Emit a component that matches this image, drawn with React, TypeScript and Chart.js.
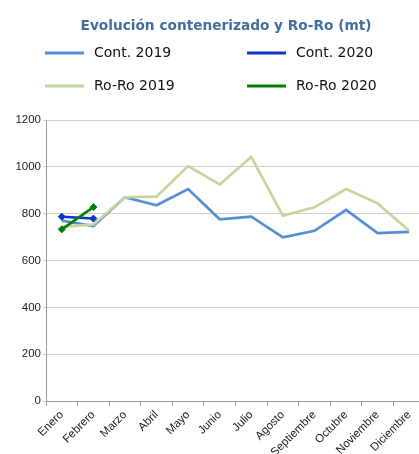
import React, { useEffect, useRef } from "react";
import { Chart, registerables } from "chart.js";

Chart.register(...registerables);

const months = ["Enero", "Febrero", "Marzo", "Abril", "Mayo", "Junio", "Julio", "Agosto", "Septiembre", "Octubre", "Noviembre", "Diciembre"];
const cont2019 = [770, 747, 870, 836, 905, 776, 787, 699, 727, 816, 717, 722];
const roro2019 = [744, 754, 870, 873, 1003, 925, 1042, 791, 827, 905, 844, 727];
const cont2020 = [787, 779];
const roro2020 = [733, 828];
const yTicks = [0, 200, 400, 600, 800, 1000, 1200];

const TITLE = "Evolución contenerizado y Ro-Ro (mt)";
const legendItems = [
  { label: "Cont. 2019", color: "#558ED5", x: 45, y: 53 },
  { label: "Cont. 2020", color: "#0A35C8", x: 247, y: 53 },
  { label: "Ro-Ro 2019", color: "#C3D69B", x: 45, y: 86 },
  { label: "Ro-Ro 2020", color: "#008000", x: 247, y: 86 },
];

const headerPlugin = {
  id: "header",
  afterDraw(chart: any) {
    const ctx = chart.ctx;
    ctx.save();
    ctx.fillStyle = "#41709F";
    ctx.font = "bold 13.7px 'DejaVu Sans'";
    ctx.textAlign = "center";
    ctx.textBaseline = "middle";
    ctx.fillText(TITLE, 226, 26);
    ctx.font = "14px 'DejaVu Sans'";
    ctx.textAlign = "left";
    for (const it of legendItems) {
      ctx.strokeStyle = it.color;
      ctx.lineWidth = 3;
      ctx.beginPath();
      ctx.moveTo(it.x, it.y);
      ctx.lineTo(it.x + 39, it.y);
      ctx.stroke();
      ctx.fillStyle = "#111111";
      ctx.fillText(it.label, it.x + 49, it.y);
    }
    ctx.restore();
  },
};

export default function App() {
  const ref = useRef<HTMLCanvasElement>(null);
  useEffect(() => {
    if (!ref.current) return;
    const chart = new Chart(ref.current, {
      type: "line",
      data: {
        labels: months,
        datasets: [
          { label: "Ro-Ro 2020", data: roro2020, borderColor: "#008000", backgroundColor: "#008000", borderWidth: 2.5, pointStyle: "rectRot", pointRadius: 3.5, pointBorderWidth: 1, order: 0 },
          { label: "Cont. 2020", data: cont2020, borderColor: "#0A35C8", backgroundColor: "#0A35C8", borderWidth: 2.5, pointStyle: "rectRot", pointRadius: 3.5, pointBorderWidth: 1, order: 1 },
          { label: "Ro-Ro 2019", data: roro2019, borderColor: "#C3D69B", borderWidth: 2.7, pointRadius: 0, order: 2 },
          { label: "Cont. 2019", data: cont2019, borderColor: "#558ED5", borderWidth: 2.7, pointRadius: 0, order: 3 },
        ],
      },
      options: {
        animation: false,
        responsive: false,
        events: [],
        layout: { padding: { top: 120, left: 0, right: 5, bottom: 0 } },
        plugins: { legend: { display: false }, title: { display: false }, tooltip: { enabled: false } },
        elements: { line: { tension: 0 } },
        scales: {
          x: {
            offset: true,
            grid: { drawOnChartArea: false, drawTicks: true, tickLength: 5, color: "#9a9a9a", offset: true },
            border: { color: "#9a9a9a", width: 1 },
            ticks: {
              autoSkip: false,
              minRotation: 45,
              maxRotation: 45,
              padding: 2,
              color: "#222222",
              font: { family: "'Liberation Sans'", size: 11.5 },
            },
            afterFit(scale: any) { scale.height = 53; },
          },
          y: {
            min: 0,
            max: 1200,
            afterBuildTicks(scale: any) { scale.ticks = yTicks.map((v) => ({ value: v })); },
            grid: { color: "#cfcfcf", tickLength: 3, lineWidth: 1 },
            border: { color: "#9a9a9a", width: 1 },
            ticks: {
              padding: 2,
              color: "#222222",
              font: { family: "'Liberation Sans'", size: 11.5 },
              callback: (v: any) => String(v),
            },
            afterFit(scale: any) { scale.width = 46; },
          },
        },
      },
      plugins: [headerPlugin],
    } as any);
    return () => chart.destroy();
  }, []);
  return (
    <div style={{ position: "fixed", left: 0, top: 0, width: 419, height: 454, overflow: "hidden", background: "#fff" }}>
      <canvas ref={ref} width={430} height={454} style={{ display: "block", width: 430, height: 454 }} />
    </div>
  );
}
